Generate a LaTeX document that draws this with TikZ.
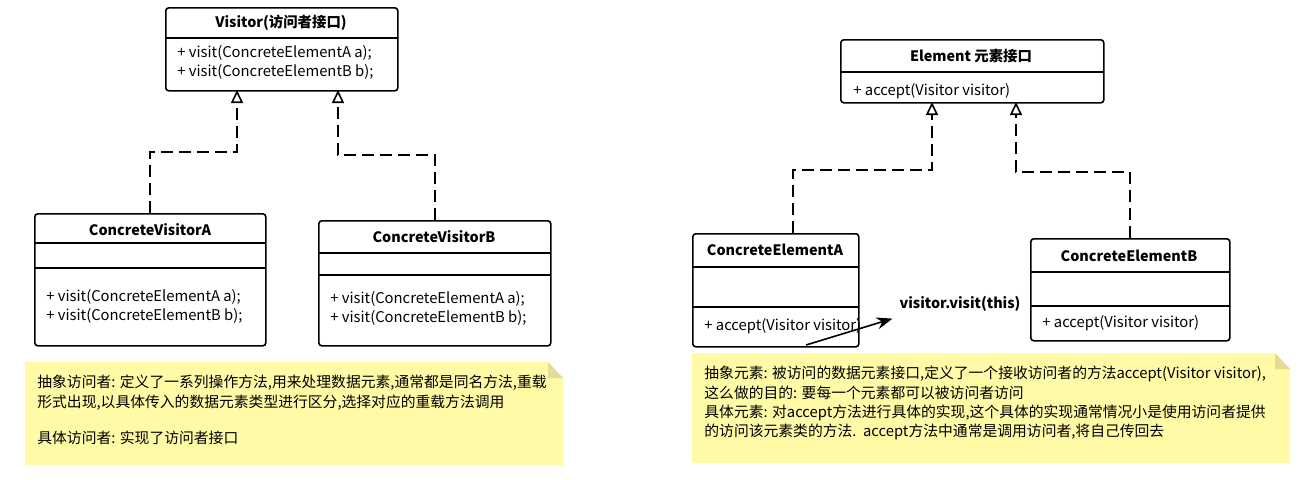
\documentclass[tikz,border=0pt]{standalone}
\usepackage{fontspec}
\setmainfont{Noto Sans CJK SC}
\usetikzlibrary{arrows.meta}

\begin{document}
\begin{tikzpicture}[x=0.5pt,y=-0.5pt,
  font=\fontsize{7.4}{9.6}\selectfont,
  umlbox/.style={draw,line width=0.8pt,rounded corners=1.5pt,anchor=north west,inner sep=0pt},
  title/.style={font=\fontsize{7.2}{8}\selectfont\bfseries},
  realize/.style={draw,line width=0.8pt,dash pattern=on 6pt off 3pt,-{Triangle[open,fill=white,length=6.5pt,width=6pt]}},
  note/.style={fill=yellow!35!white,draw=none},
  notetext/.style={anchor=north west,align=left,inner sep=0pt}]
\useasboundingbox (0,0) rectangle (1304,479);

% UML class with three compartments: #1 name, #2 x, #3 y, #4 w, #5 h, #6 line1, #7 line2
\newcommand{\umlclass}[7]{
 \node[umlbox,minimum width=#4*0.5pt,minimum height=#5*0.5pt] (#1) at (#2,#3) {};
 \draw[line width=0.8pt] (#2,#6) -- ++(#4,0);
 \draw[line width=0.8pt] (#2,#7) -- ++(#4,0);
}

% visitor side
\node[umlbox,minimum width=116pt,minimum height=41.5pt] (visitor) at (165,7) {};
\draw[line width=0.8pt] (165,38) -- (397,38);
\node[title] (visitortitle) at (281,23) {Visitor(访问者接口)};
\node[notetext] (visitorops) at (177,45) {+ visit(ConcreteElementA a);\\+ visit(ConcreteElementB b);};

\umlclass{cva}{34}{213}{231}{132}{243}{268}
\node[title] (cvatitle) at (150,230) {ConcreteVisitorA};
\node[notetext] (cvaops) at (46,289) {+ visit(ConcreteElementA a);\\+ visit(ConcreteElementB b);};

\umlclass{cvb}{318}{220}{232}{125}{253}{275}
\node[title] (cvbtitle) at (434,237) {ConcreteVisitorB};
\node[notetext] (cvbops) at (330,291) {+ visit(ConcreteElementA a);\\+ visit(ConcreteElementB b);};

\coordinate (va) at (237,90);
\coordinate (vb) at (338,90);
\draw[realize] (cva.north -| 150,0) |- (237,152) -- (va);
\draw[realize] (cvb.north -| 435,0) |- (338,155) -- (vb);

\fill[note] (25,362) -- (548,362) -- (563,378) -- (563,465) -- (25,465) -- cycle;
\fill[yellow!55!gray!60] (548,362) -- (563,378) -- (548,378) -- cycle;
\node[notetext] (visitornote) at (37,375) {抽象访问者: 定义了一系列操作方法,用来处理数据元素,通常都是同名方法,重载\\形式出现,以具体传入的数据元素类型进行区分,选择对应的重载方法调用\\[8.5pt]具体访问者: 实现了访问者接口};

% element side
\node[umlbox,minimum width=131.5pt,minimum height=31.5pt] (element) at (840,39) {};
\draw[line width=0.8pt] (840,72) -- (1103,72);
\node[title] (elementtitle) at (971,56) {Element 元素接口};
\node[notetext] (elementops) at (853,83) {+ accept(Visitor visitor)};

\umlclass{cea}{692}{233}{166}{113}{267}{307}
\node[title] (ceatitle) at (775,250) {ConcreteElementA};
\node[notetext] (ceaops) at (704,318) {+ accept(Visitor visitor)};

\umlclass{ceb}{1030}{238}{199}{102}{272}{306}
\node[title] (cebtitle) at (1129,256) {ConcreteElementB};
\node[notetext] (cebops) at (1042,315) {+ accept(Visitor visitor)};

\coordinate (ea) at (932,102);
\coordinate (eb) at (1016,102);
\draw[realize] (cea.north -| 793,0) |- (932,170) -- (ea);
\draw[realize] (ceb.north -| 1130,0) |- (1016,172) -- (eb);

\node[title] (visitcall) at (960,304) {visitor.visit(this)};
\coordinate (callstart) at (806,345);
\draw[line width=0.8pt,-{Stealth[length=8pt,width=6pt]}] (callstart) -- (visitcall.south west);

\fill[note] (692,353) -- (1275,353) -- (1290,369) -- (1290,463) -- (692,463) -- cycle;
\fill[yellow!55!gray!60] (1275,353) -- (1290,369) -- (1275,369) -- cycle;
\node[notetext] (elementnote) at (704,366) {抽象元素: 被访问的数据元素接口,定义了一个接收访问者的方法accept(Visitor visitor),\\这么做的目的: 要每一个元素都可以被访问者访问\\具体元素: 对accept方法进行具体的实现,这个具体的实现通常情况小是使用访问者提供\\的访问该元素类的方法.\ \ accept方法中通常是调用访问者,将自己传回去};
\end{tikzpicture}
\end{document}
